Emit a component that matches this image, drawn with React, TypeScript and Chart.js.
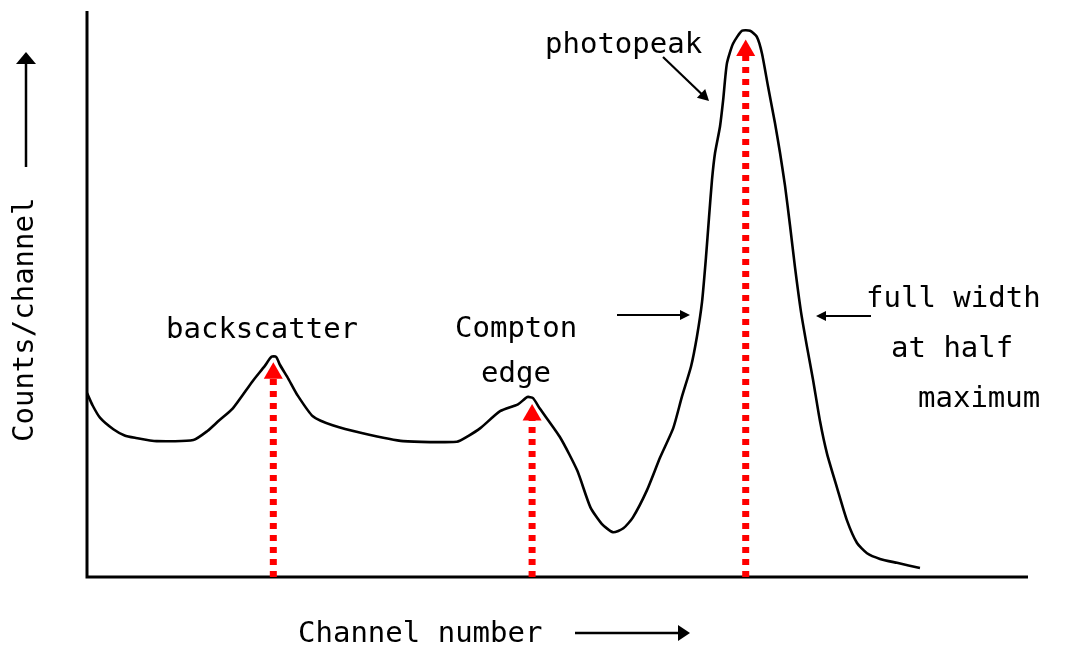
import React, { useEffect, useRef } from "react";
import { Chart, registerables } from "chart.js";

Chart.register(...registerables);

// Spectrum curve (channel, counts)
const channels = [0, 6, 14, 28, 40, 51, 74, 113, 128, 140, 155, 176, 189, 196, 201, 205, 214, 223, 240, 261, 293, 336, 393, 405, 418, 439, 458, 468, 474, 481, 503, 521, 535, 547, 559, 570, 580, 595, 609, 623, 632.3, 641.9, 648.2, 653.6, 657.8, 661, 664.2, 667.4, 672.7, 676, 680, 686.5, 696, 704.6, 712, 717.3, 723.7, 731.1, 736.5, 741.8, 747.1, 752.4, 758.8, 765.1, 771.5, 779, 786.4, 797, 807.6, 818.3, 828.9, 842.7, 860.8, 885.2];
const counts = [32.5, 30.3, 28.1, 26.1, 25.0, 24.6, 24.0, 24.2, 25.8, 27.6, 29.8, 34.6, 37.3, 38.9, 38.9, 37.5, 35.0, 32.3, 28.4, 26.8, 25.4, 24.0, 23.9, 24.9, 26.3, 29.3, 30.5, 31.8, 31.6, 29.8, 24.6, 18.8, 12.3, 9.4, 7.9, 8.6, 10.5, 15.3, 21.1, 26.3, 31.9, 37.2, 42.5, 48.6, 56.5, 63.5, 70.2, 74.9, 79.6, 84.2, 90.7, 94.2, 96.5, 96.5, 95.4, 92.5, 86.7, 80.2, 74.9, 69.1, 62.1, 54.7, 46.8, 40.7, 34.9, 27.5, 21.8, 15.8, 10.0, 6.0, 4.2, 3.2, 2.5, 1.6];

// Red dotted markers
const markerNames = ["backscatter", "Compton edge", "photopeak"];
const markerChannels = [198, 473, 700];
const markerTops = [36.0, 28.6, 93.0];

// Text
const xAxisTitle = "Channel number";
const yAxisTitle = "Counts/channel";
const annotationTexts = ["photopeak", "backscatter", "Compton", "edge", "full width", "at half", "maximum"];

const FONT = '29px "DejaVu Sans Mono", monospace';

function arrowHead(ctx: CanvasRenderingContext2D, x1: number, y1: number, x2: number, y2: number, len: number, half: number) {
  const a = Math.atan2(y2 - y1, x2 - x1);
  ctx.beginPath();
  ctx.moveTo(x2, y2);
  ctx.lineTo(x2 - len * Math.cos(a) + half * Math.sin(a), y2 - len * Math.sin(a) - half * Math.cos(a));
  ctx.lineTo(x2 - len * Math.cos(a) - half * Math.sin(a), y2 - len * Math.sin(a) + half * Math.cos(a));
  ctx.closePath();
  ctx.fill();
}

function arrow(ctx: CanvasRenderingContext2D, x1: number, y1: number, x2: number, y2: number, len: number, half: number, w: number) {
  const a = Math.atan2(y2 - y1, x2 - x1);
  ctx.lineWidth = w;
  ctx.beginPath();
  ctx.moveTo(x1, y1);
  ctx.lineTo(x2 - (len * 0.6) * Math.cos(a), y2 - (len * 0.6) * Math.sin(a));
  ctx.stroke();
  arrowHead(ctx, x1, y1, x2, y2, len, half);
}

const decorPlugin = {
  id: "decor",
  beforeDatasetsDraw(chart: any) {
    const ctx = chart.ctx as CanvasRenderingContext2D;
    const xs = chart.scales.x;
    const ys = chart.scales.y;
    const x0 = xs.getPixelForValue(0);
    const y0 = ys.getPixelForValue(0);
    ctx.save();
    ctx.strokeStyle = "#000";
    ctx.lineWidth = 3;
    ctx.beginPath();
    ctx.moveTo(x0, ys.getPixelForValue(100));
    ctx.lineTo(x0, y0);
    ctx.lineTo(xs.getPixelForValue(1000), y0);
    ctx.stroke();
    ctx.restore();
  },
  afterDraw(chart: any) {
    const ctx = chart.ctx as CanvasRenderingContext2D;
    ctx.save();
    ctx.fillStyle = "#000";
    ctx.strokeStyle = "#000";
    ctx.font = FONT;
    ctx.textAlign = "left";
    ctx.textBaseline = "alphabetic";
    const pos: [number, number][] = [
      [545, 53],
      [166, 338],
      [455, 337],
      [481, 382],
      [866, 307],
      [891, 357],
      [918, 407],
    ];
    annotationTexts.forEach((t, i) => ctx.fillText(t, pos[i][0], pos[i][1]));
    ctx.fillText(xAxisTitle, 298, 642);
    ctx.save();
    ctx.translate(33, 442);
    ctx.rotate(-Math.PI / 2);
    ctx.fillText(yAxisTitle, 0, 0);
    ctx.restore();
    arrow(ctx, 26, 167, 26, 52, 12, 10, 2.5);
    arrow(ctx, 575, 633, 690, 633, 12, 8, 2.5);
    arrow(ctx, 663, 57, 709, 101, 11, 6, 2.2);
    arrow(ctx, 617, 315, 690, 315, 10, 5, 1.8);
    arrow(ctx, 871, 316, 816, 316, 10, 5, 1.8);
    ctx.restore();
  },
};

export default function App() {
  const ref = useRef<HTMLCanvasElement | null>(null);
  useEffect(() => {
    if (!ref.current) return;
    const markerSets = markerChannels.map((c, i) => ({
      label: markerNames[i],
      data: [
        { x: c, y: 0 },
        { x: c, y: markerTops[i] },
      ],
      borderColor: "#ff0000",
      backgroundColor: "#ff0000",
      borderWidth: 7,
      borderDash: [6, 6],
      borderCapStyle: "butt" as const,
      pointRadius: [0, 11],
      pointStyle: "triangle" as const,
      pointBorderWidth: 0,
      tension: 0,
      order: 0,
    }));
    const chart = new Chart(ref.current, {
      type: "line",
      data: {
        datasets: [
          {
            label: "spectrum",
            data: channels.map((c, i) => ({ x: c, y: counts[i] })),
            borderColor: "#000",
            borderWidth: 2.6,
            pointRadius: 0,
            tension: 0.2,
            fill: false,
            order: 1,
          },
          ...markerSets,
        ],
      },
      options: {
        animation: false,
        responsive: false,
        layout: { padding: { left: 87, right: 49, top: 7, bottom: 71 } },
        plugins: { legend: { display: false }, tooltip: { enabled: false } },
        scales: {
          x: { type: "linear", min: 0, max: 1000, display: false },
          y: { type: "linear", min: 0, max: 100, display: false },
        },
      },
      plugins: [decorPlugin],
    });
    return () => chart.destroy();
  }, []);
  return (
    <div style={{ position: "fixed", left: 0, top: 0, width: 1077, height: 648, background: "#fff" }}>
      <canvas ref={ref} width={1077} height={648} style={{ display: "block" }} />
    </div>
  );
}
